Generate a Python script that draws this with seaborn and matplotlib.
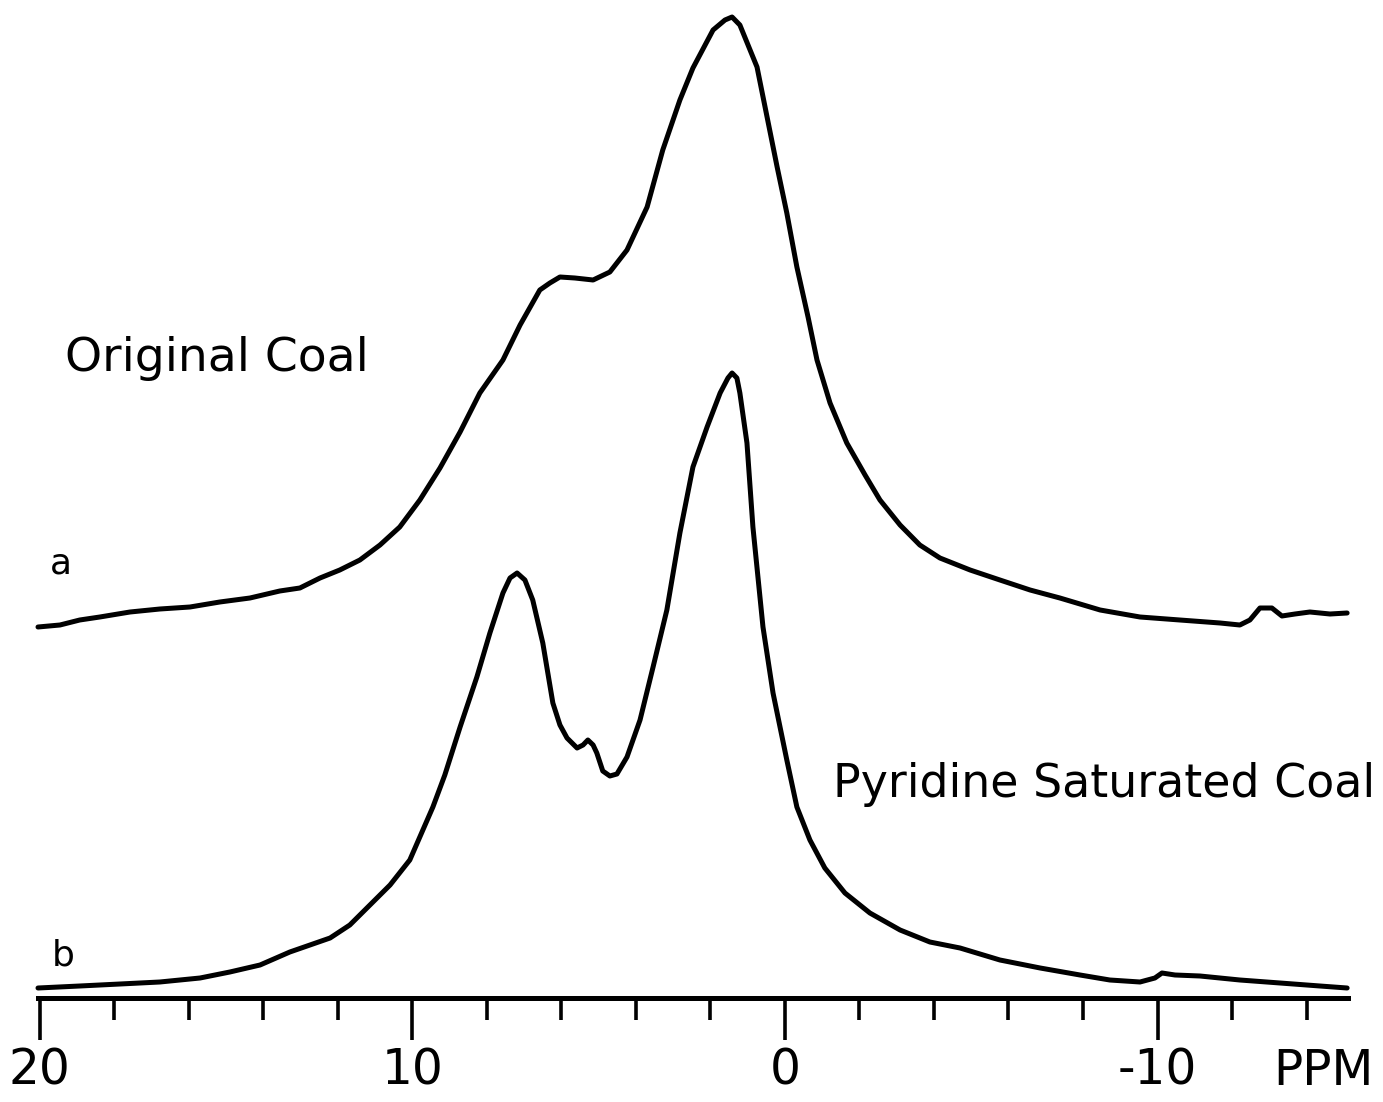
import numpy as np
import pandas as pd
import matplotlib
matplotlib.use("Agg")
import matplotlib.pyplot as plt
import seaborn as sns

# ---------------- data ----------------
# Spectrum a: Original Coal
ppm_a = [20.05, 19.46, 18.93, 18.39, 17.58, 16.78, 15.97, 15.17, 14.36, 13.56,
         13.02, 12.48, 11.95, 11.41, 10.87, 10.34, 9.80, 9.26, 8.72, 8.19,
         7.57, 7.11, 6.58, 6.31, 6.04, 5.64, 5.15, 4.70, 4.24, 3.70,
         3.28, 2.82, 2.47, 1.93, 1.61, 1.42, 1.21, 0.75, 0.48, 0.21,
         -0.05, -0.32, -0.62, -0.86, -1.21, -1.66, -2.15, -2.55, -3.09, -3.62,
         -4.16, -4.97, -5.77, -6.58, -7.38, -8.46, -9.53, -10.60, -11.68, -12.21,
         -12.48, -12.75, -13.07, -13.34, -13.69, -14.09, -14.63, -15.09]
int_a = [1, 3, 8, 11, 16, 19, 21, 26, 30, 37,
         40, 50, 58, 68, 83, 101, 128, 160, 196, 235,
         268, 303, 338, 345, 351, 350, 348, 356, 378, 421,
         478, 528, 560, 598, 608, 611, 603, 561, 511, 461,
         415, 361, 311, 268, 225, 185, 153, 128, 103, 83,
         70, 58, 48, 38, 30, 18, 11, 8, 5, 3,
         8, 20, 20, 12, 14, 16, 14, 15]

# Spectrum b: Pyridine Saturated Coal
ppm_b = [20.05, 18.93, 17.85, 16.78, 15.70, 14.90, 14.09, 13.29, 12.75, 12.21,
         11.68, 11.14, 10.60, 10.07, 9.45, 9.13, 8.72, 8.27, 7.92, 7.57,
         7.38, 7.19, 6.98, 6.77, 6.50, 6.23, 6.04, 5.85, 5.58, 5.42,
         5.29, 5.15, 5.05, 4.89, 4.70, 4.51, 4.24, 3.89, 3.54, 3.17,
         2.82, 2.47, 2.09, 1.74, 1.53, 1.42, 1.29, 1.21, 1.02, 0.86,
         0.59, 0.32, -0.05, -0.32, -0.67, -1.07, -1.61, -2.28, -3.09, -3.89,
         -4.70, -5.77, -6.85, -7.92, -8.72, -9.53, -9.93, -10.12, -10.47, -11.14,
         -12.21, -13.29, -14.36, -15.09]
int_b = [2, 4, 6, 8, 12, 18, 25, 38, 45, 52,
         65, 85, 105, 130, 183, 215, 263, 313, 357, 397,
         412, 417, 410, 390, 347, 287, 265, 252, 242, 245,
         250, 245, 237, 219, 214, 216, 233, 270, 323, 380,
         457, 523, 563, 597, 612, 617, 612, 597, 547, 463,
         363, 297, 230, 183, 150, 122, 97, 77, 60, 48,
         42, 30, 22, 15, 10, 8, 12, 17, 15, 14,
         10, 7, 4, 2]

major_ticks = [20, 10, 0, -10]
major_labels = ["20", "10", "0", "-10"]
minor_ticks = [18, 16, 14, 12, 8, 6, 4, 2, -2, -4, -6, -8, -12, -14]
unit_label = "PPM"
label_a = "Original Coal"
label_b = "Pyridine Saturated Coal"

# ---------------- layout ----------------
W, H = 1383, 1102
OFFSET_A = 370
OFFSET_B = 8
TICK_LEN, TICK_PAD = 30, 5

df = pd.concat([
    pd.DataFrame({"ppm": ppm_a, "y": np.array(int_a) + OFFSET_A, "trace": "a"}),
    pd.DataFrame({"ppm": ppm_b, "y": np.array(int_b) + OFFSET_B, "trace": "b"}),
])

sns.set_style("white")
plt.rcParams["font.family"] = ["DejaVu Sans"]
plt.rcParams["text.color"] = "black"
plt.rcParams["xtick.color"] = "black"
plt.rcParams["xtick.labelcolor"] = "black"

fig = plt.figure(figsize=(W / 100, H / 100), dpi=100)
ax = fig.add_axes([38 / W, (H - 998) / H, (1347.5 - 38) / W, 998 / H])

sns.lineplot(data=df, x="ppm", y="y", units="trace", estimator=None,
             color="black", linewidth=3.6, ax=ax, legend=False)

ax.set_xlim(20.05, -15.1)
ax.set_ylim(0, 998)
ax.set_xlabel("")
ax.set_ylabel("")
ax.set_yticks([])
for s in ["left", "right", "top"]:
    ax.spines[s].set_visible(False)
ax.spines["bottom"].set_linewidth(3.6)
ax.spines["bottom"].set_color("black")

ax.set_xticks(major_ticks)
ax.set_xticklabels(major_labels)
ax.set_xticks(minor_ticks, minor=True)
ax.tick_params(axis="x", which="major", direction="out", length=TICK_LEN, width=2.6,
               color="black", labelcolor="black", labelsize=35, pad=TICK_PAD, bottom=True)
ax.tick_params(axis="x", which="minor", direction="out", length=16, width=2.6,
               color="black", bottom=True)
for line in ax.get_lines():
    line.set_clip_on(False)

ax.annotate(unit_label, xy=(-14.45, 0), xycoords=("data", "axes fraction"),
            xytext=(0, -(TICK_LEN + TICK_PAD)), textcoords="offset points",
            ha="center", va="top", fontsize=35, color="black", annotation_clip=False)
fig.text(65 / W, 1 - 371 / H, label_a, fontsize=34, ha="left", va="baseline", color="black")
fig.text(833 / W, 1 - 797 / H, label_b, fontsize=33, ha="left", va="baseline", color="black")
fig.text(50 / W, 1 - 573 / H, "a", fontsize=26, ha="left", va="baseline", color="black")
fig.text(52 / W, 1 - 965 / H, "b", fontsize=26, ha="left", va="baseline", color="black")

fig.savefig("out.png", dpi=100, facecolor="white")
